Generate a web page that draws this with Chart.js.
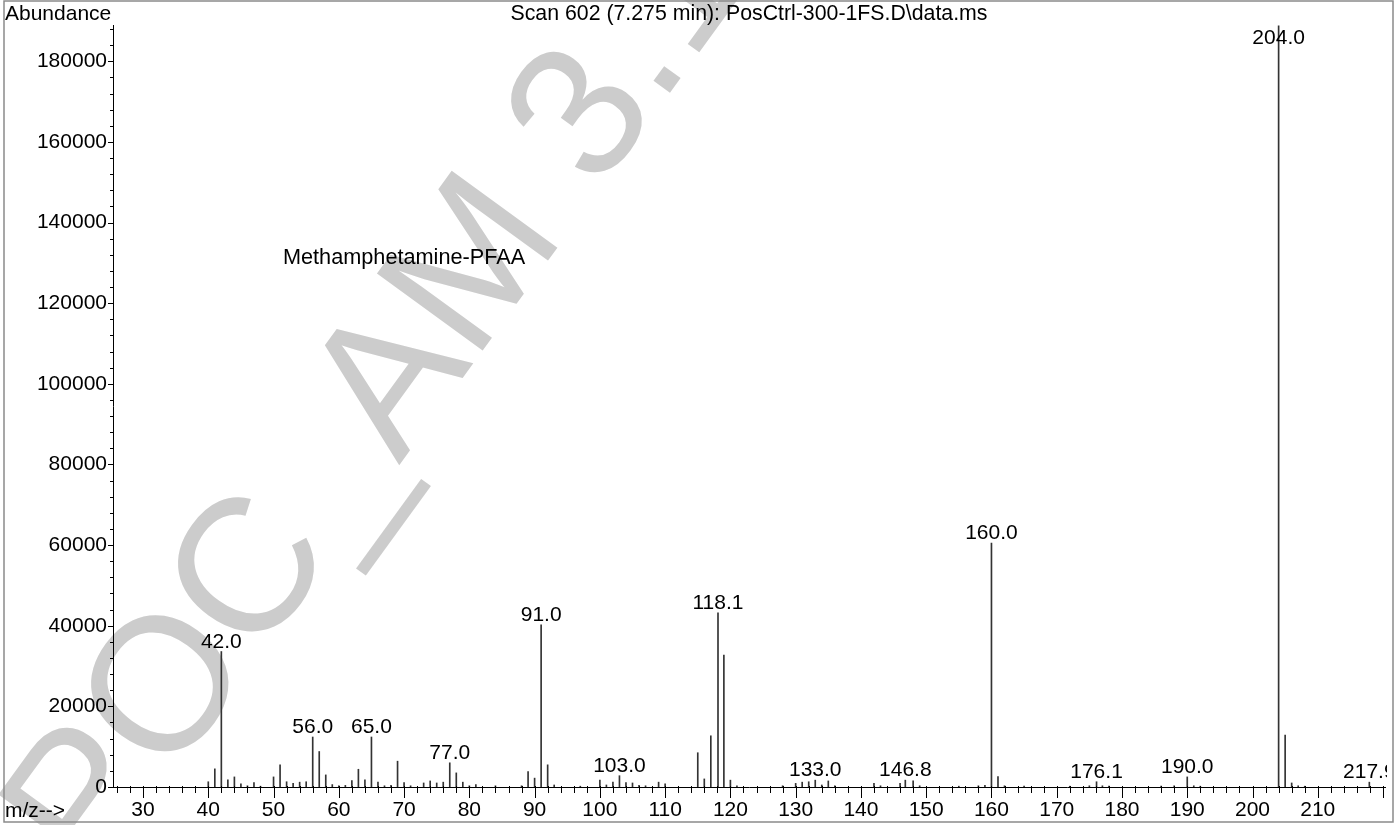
<!DOCTYPE html>
<html>
<head>
<meta charset="utf-8">
<script src="https://cdn.jsdelivr.net/npm/chart.js@4.4.1/dist/chart.umd.min.js"></script>
<style>
  html, body { margin: 0; padding: 0; background: #fff; }
  #wrap { width: 1400px; height: 825px; position: relative; }
  canvas { display: block; }
</style>
</head>
<body>
<div id="wrap"><canvas id="c" width="1400" height="825"></canvas></div>
<script>
// ---- data ----
const titleText = 'Scan 602 (7.275 min): PosCtrl-300-1FS.D\\data.ms';
const yAxisTitle = 'Abundance';
const xAxisTitle = 'm/z-->';
const compoundName = 'Methamphetamine-PFAA';
const watermarkText = 'POC_AM 3.10.4';

const mz = [40, 41, 42, 43, 44, 45, 46, 47, 48, 50, 51, 52, 53, 54, 55, 56, 57, 58, 59, 60,
  61, 62, 63, 64, 65, 66, 67, 68, 69, 70, 71, 73, 74, 75, 76, 77, 78, 79, 80, 81,
  84, 88, 89, 90, 91, 92, 93, 97, 100, 101, 102, 103, 104, 105, 106, 107, 109, 110,
  115, 116, 117, 118.1, 119, 120, 121, 128, 130, 131, 132, 133, 134, 135, 136,
  142, 143, 146, 146.8, 148, 149, 155, 158, 159, 160, 161, 162, 165, 172, 175, 176.1, 177, 178,
  186, 188, 190, 191, 192, 204, 205, 206, 207, 208, 217.9];
const abundance = [1300, 4500, 33600, 1800, 2500, 800, 300, 1100, 200, 2500, 5500, 1300, 900, 1200, 1300, 12400, 8800, 3000, 600, 300,
  400, 1600, 4400, 1800, 12400, 1200, 300, 400, 6400, 1100, 300, 1000, 1500, 1000, 1200, 6000, 3500, 1200, 300, 600,
  300, 300, 3800, 2200, 40200, 5500, 500, 200, 1700, 500, 1200, 2800, 1100, 1000, 400, 300, 1200, 800,
  8500, 2000, 12700, 43200, 32700, 1700, 300, 300, 900, 1200, 1300, 1700, 500, 1500, 300,
  900, 300, 900, 1700, 1500, 300, 200, 300, 400, 60500, 2600, 300, 200, 200, 300, 1300, 300, 200,
  200, 300, 2500, 300, 200, 188800, 12900, 1000, 300, 200, 1200];
const labeledPeaks = [42.0, 56.0, 65.0, 77.0, 91.0, 103.0, 118.1, 133.0, 146.8, 160.0, 176.1, 190.0, 204.0, 217.9];

const xTickLabels = [30, 40, 50, 60, 70, 80, 90, 100, 110, 120, 130, 140, 150, 160, 170, 180, 190, 200, 210];
const yTickLabels = [0, 20000, 40000, 60000, 80000, 100000, 120000, 140000, 160000, 180000];
const xRange = [25.4, 220.3];
const yRange = [0, 189000];
const xMinorStep = 2;
const yMinorStep = 4000;

const FONT = '"Liberation Sans", Arial, Helvetica, sans-serif';
const FS = 21;

const decorPlugin = {
  id: 'decor',
  beforeDraw(chart) {
    const ctx = chart.ctx;
    ctx.save();
    ctx.fillStyle = '#fff';
    ctx.fillRect(0, 0, chart.width, chart.height);
    // watermark
    ctx.translate(95, 884);
    ctx.rotate(-54 * Math.PI / 180);
    ctx.font = '190px ' + FONT;
    ctx.fillStyle = '#cccccc';
    ctx.textBaseline = 'alphabetic';
    ctx.textAlign = 'left';
    ctx.fillText(watermarkText, 0, 0);
    ctx.restore();
  },
  afterDraw(chart) {
    const ctx = chart.ctx;
    const xs = chart.scales.x, ys = chart.scales.y;
    const area = chart.chartArea;
    ctx.save();
    ctx.strokeStyle = '#000';
    ctx.lineWidth = 1;
    ctx.beginPath();
    // x ticks
    for (let v = Math.ceil(xRange[0] / xMinorStep) * xMinorStep; v <= xRange[1] + 1e-9; v += xMinorStep) {
      const px = Math.round(xs.getPixelForValue(v)) + 0.5;
      const len = (v % 10 === 0) ? 11 : 6;
      ctx.moveTo(px, area.bottom - 1);
      ctx.lineTo(px, area.bottom + len);
    }
    // y ticks
    for (let v = 0; v <= yRange[1]; v += yMinorStep) {
      const py = Math.round(ys.getPixelForValue(v)) + 0.5;
      const len = (v % 20000 === 0) ? 5 : 3;
      ctx.moveTo(area.left - len, py);
      ctx.lineTo(area.left, py);
    }
    ctx.stroke();

    // texts
    ctx.fillStyle = '#000';
    ctx.font = FS + 'px ' + FONT;
    ctx.textBaseline = 'alphabetic';
    ctx.textAlign = 'left';
    ctx.fillText(yAxisTitle, 5, 20);
    ctx.fillText(xAxisTitle, 5, 817);
    ctx.textAlign = 'center';
    ctx.font = '21.3px ' + FONT;
    ctx.fillText(titleText, 749, 20);
    ctx.font = '21.7px ' + FONT;
    ctx.fillText(compoundName, xs.getPixelForValue(70), ys.getPixelForValue(131500) + 7);
    ctx.font = FS + 'px ' + FONT;

    // peak labels
    ctx.save();
    ctx.beginPath();
    ctx.rect(0, 0, area.right + 2, chart.height);
    ctx.clip();
    labeledPeaks.forEach(m => {
      const i = mz.indexOf(m);
      const px = xs.getPixelForValue(m);
      let base = ys.getPixelForValue(abundance[i]) - 4;
      base = Math.max(base, area.top + 19);
      ctx.fillText(m.toFixed(1), px, base);
    });
    ctx.restore();

    // frame
    ctx.strokeStyle = '#8a8a8a';
    ctx.lineWidth = 1.5;
    ctx.strokeRect(4, 1, 1389, 821);
    ctx.restore();
  }
};

new Chart(document.getElementById('c'), {
  type: 'bar',
  data: {
    datasets: [{
      data: mz.map((m, i) => ({ x: m, y: abundance[i] })),
      backgroundColor: '#333',
      borderWidth: 0,
      barThickness: 1,
      grouped: false
    }]
  },
  options: {
    responsive: false,
    animation: false,
    devicePixelRatio: 1,
    layout: { padding: { top: 25, right: 15, left: 0, bottom: 0 } },
    plugins: { legend: { display: false }, tooltip: { enabled: false }, title: { display: false } },
    scales: {
      x: {
        type: 'linear',
        min: xRange[0], max: xRange[1],
        offset: false,
        grid: { display: false, drawTicks: false, offset: false },
        border: { display: true, color: '#000', width: 1 },
        afterBuildTicks: s => { s.ticks = xTickLabels.map(v => ({ value: v })); },
        afterFit: s => { s.height = 38; },
        ticks: {
          autoSkip: false, maxRotation: 0, padding: 11,
          color: '#000', font: { family: FONT, size: FS },
          callback: v => String(v)
        }
      },
      y: {
        type: 'linear',
        min: yRange[0], max: yRange[1],
        grid: { display: false, drawTicks: false },
        border: { display: true, color: '#000', width: 1 },
        afterBuildTicks: s => { s.ticks = yTickLabels.map(v => ({ value: v })); },
        afterFit: s => { s.width = 113; },
        ticks: {
          autoSkip: false, padding: 6,
          color: '#000', font: { family: FONT, size: FS },
          callback: v => String(v)
        }
      }
    }
  },
  plugins: [decorPlugin]
});
</script>
</body>
</html>
